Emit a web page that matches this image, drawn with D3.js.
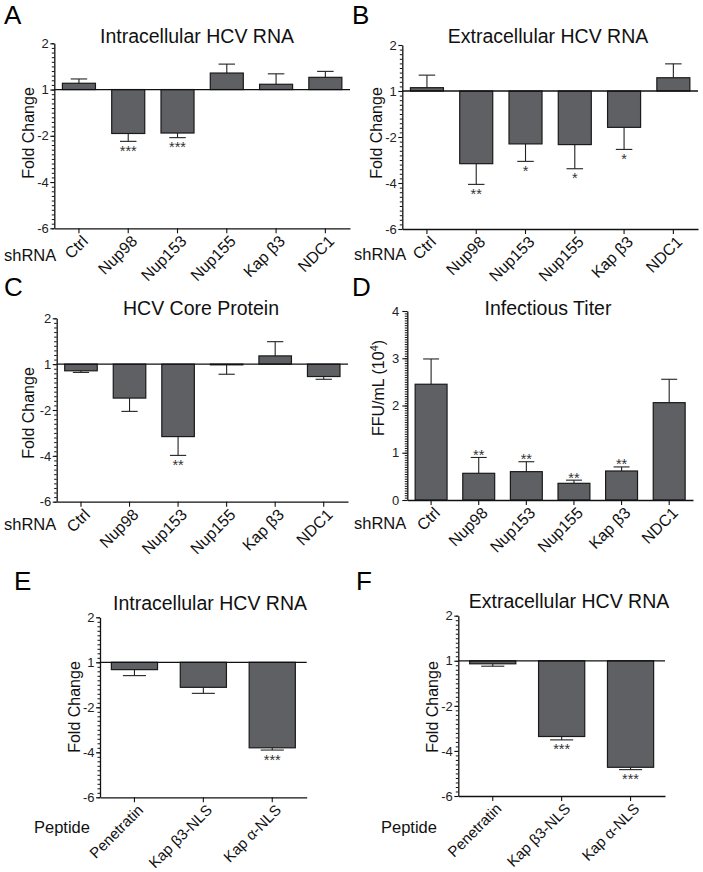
<!DOCTYPE html>
<html><head><meta charset="utf-8">
<script src="https://cdn.jsdelivr.net/npm/d3@7"></script>
<style>
html,body{margin:0;padding:0;background:#fff;}
svg{display:block;font-family:Arial,"Liberation Sans",Helvetica,sans-serif;}
</style></head>
<body>
<svg id="fig" width="703" height="872"></svg>
<script>
// ---------- DATA ----------
const shRNA = ["Ctrl", "Nup98", "Nup153", "Nup155", "Kap β3", "NDC1"];
const peptides = ["Penetratin", "Kap β3-NLS", "Kap α-NLS"];

// Fold-change axis: labelled ticks are equally spaced; values below are in axis steps
// (0 = fold change 1, 1 = "2", -1 = "-2", -2 = "-4", -3 = "-6")
const foldTickValues = [1, 0, -1, -2, -3];
const foldTickLabels = ["2", "1", "-2", "-4", "-6"];
const titerTickValues = [0, 1, 2, 3, 4];
const titerTickLabels = ["0", "1", "2", "3", "4"];

// A: Intracellular HCV RNA (shRNA)
const aMean = [0.136, -0.95, -0.94, 0.357, 0.114, 0.264];
const aErr  = [0.229, -1.12, -1.04, 0.55, 0.34, 0.393];
const aSig  = ["", "***", "***", "", "", ""];
// B: Extracellular HCV RNA (shRNA)
const bMean = [0.072, -1.58, -1.15, -1.165, -0.79, 0.288];
const bErr  = [0.345, -2.03, -1.53, -1.69, -1.27, 0.59];
const bSig  = ["", "**", "*", "*", "*", ""];
// C: HCV Core Protein (shRNA)
const cMean = [-0.145, -0.74, -1.58, -0.015, 0.18, -0.27];
const cErr  = [-0.18, -1.03, -1.99, -0.22, 0.49, -0.33];
const cSig  = ["", "", "**", "", "", ""];
// D: Infectious Titer, FFU/mL (10^4)
const dMean = [2.45, 0.565, 0.60, 0.353, 0.614, 2.06];
const dErr  = [2.985, 0.90, 0.81, 0.42, 0.70, 2.555];
const dSig  = ["", "**", "**", "**", "**", ""];
// E: Intracellular HCV RNA (peptide)
const eMean = [-0.163, -0.556, -1.90];
const eErr  = [-0.296, -0.69, -1.95];
const eSig  = ["", "", "***"];
// F: Extracellular HCV RNA (peptide)
const fMean = [-0.067, -1.68, -2.363];
const fErr  = [-0.12, -1.755, -2.415];
const fSig  = ["", "***", "***"];

// ---------- DRAW ----------
const svg = d3.select("#fig");
const BAR = "#5f6064";

function panel(cfg) {
  const g = svg.append("g");
  const x = d3.scaleBand().domain(cfg.cats).range([cfg.x0, cfg.x1])
    .paddingInner(0.33).paddingOuter(0.165);
  const y = d3.scaleLinear().domain(cfg.domain).range([cfg.yb, cfg.yt]);
  const rows = cfg.cats.map((c, i) => ({c, m: cfg.mean[i], e: cfg.err[i], s: cfg.sig[i]}));
  const bw = x.bandwidth();

  // error bars
  const eb = g.append("g").attr("stroke", "#222").attr("stroke-width", 1.1);
  rows.forEach(r => {
    const cx = x(r.c) + bw / 2;
    eb.append("line").attr("x1", cx).attr("x2", cx).attr("y1", y(r.m)).attr("y2", y(r.e));
    eb.append("line").attr("x1", cx - bw / 4).attr("x2", cx + bw / 4).attr("y1", y(r.e)).attr("y2", y(r.e));
  });
  // bars
  g.append("g").selectAll("rect").data(rows).join("rect")
    .attr("x", d => x(d.c)).attr("width", bw)
    .attr("y", d => Math.min(y(0), y(d.m)))
    .attr("height", d => Math.abs(y(d.m) - y(0)))
    .attr("fill", BAR).attr("stroke", "#1a1a1a").attr("stroke-width", 1.2);
  // significance
  g.append("g").selectAll("text").data(rows.filter(r => r.s)).join("text")
    .attr("x", d => x(d.c) + bw / 2)
    .attr("y", d => d.e < 0 ? y(d.e) + 14.5 : y(d.e) + 2.5)
    .attr("text-anchor", "middle").attr("font-size", 14.5).attr("fill", "#333")
    .text(d => d.s);

  // baseline (fold change = 1)
  if (cfg.baseline) {
    g.append("line").attr("x1", cfg.x0).attr("x2", cfg.x1).attr("y1", y(0)).attr("y2", y(0))
      .attr("stroke", "#111").attr("stroke-width", 1.3);
  }
  // minor ticks
  const minor = d3.range(cfg.domain[0], cfg.domain[1] + 1e-9, cfg.minorStep);
  g.append("g").attr("transform", `translate(${cfg.x0},0)`)
    .call(d3.axisLeft(y).tickValues(minor).tickSize(2.5).tickFormat(""))
    .call(s => s.select(".domain").remove())
    .call(s => s.selectAll("line").attr("stroke", "#111"));
  // y axis
  g.append("g").attr("transform", `translate(${cfg.x0},0)`)
    .call(d3.axisLeft(y).tickValues(cfg.ticks).tickFormat((d, i) => cfg.tickLabels[i])
      .tickSize(cfg.tickSize).tickSizeOuter(0).tickPadding(cfg.tickPad))
    .call(s => s.select(".domain").attr("stroke", "#111").attr("stroke-width", 1.3))
    .call(s => s.selectAll("line").attr("stroke", "#111").attr("stroke-width", 1.1))
    .call(s => s.selectAll("text").attr("font-size", 13).attr("fill", "#222")
      .attr("font-family", "Arial, 'Liberation Sans', sans-serif"));
  // x axis
  const xa = g.append("g").attr("transform", `translate(0,${cfg.yb})`)
    .call(d3.axisBottom(x).tickSize(5).tickSizeOuter(0).tickFormat(""));
  xa.select(".domain").attr("stroke", "#111").attr("stroke-width", 1.3);
  xa.selectAll("line").attr("stroke", "#111").attr("stroke-width", 1.1);
  g.append("g").selectAll("text").data(cfg.cats).join("text")
    .attr("transform", d => `translate(${x(d) + bw / 2 + 6},${cfg.yb + 10}) rotate(-45)`)
    .attr("text-anchor", "end").attr("dy", "0.35em").attr("font-size", cfg.catSize).attr("fill", "#111")
    .text(d => d);

  // title, labels
  g.append("text").attr("x", cfg.titleX).attr("y", cfg.titleY).attr("text-anchor", "middle")
    .attr("font-size", 19.5).attr("fill", "#111").text(cfg.title);
  g.append("text").attr("transform", `translate(${cfg.ylabX},${cfg.ylabY}) rotate(-90)`)
    .attr("text-anchor", "middle").attr("font-size", 16).attr("fill", "#111")
    .html(cfg.ylab);
  g.append("text").attr("x", cfg.groupX).attr("y", cfg.groupY).attr("font-size", 16.5)
    .attr("fill", "#111").text(cfg.group);
  g.append("text").attr("x", cfg.letterX).attr("y", cfg.letterY).attr("font-size", 26)
    .attr("fill", "#000").text(cfg.letter);
}

const fold = {domain: [-3, 1], ticks: foldTickValues, tickLabels: foldTickLabels, minorStep: 0.1,
  baseline: true, tickSize: 4, tickPad: 1.5, ylab: "Fold Change", catSize: 16};

panel({...fold, letter: "A", letterX: 4, letterY: 24, title: "Intracellular HCV RNA", titleX: 197, titleY: 43,
  cats: shRNA, mean: aMean, err: aErr, sig: aSig, x0: 54.3, x1: 350, yt: 43.3, yb: 228.3,
  ylabX: 34, ylabY: 133, group: "shRNA", groupX: 4, groupY: 261});
panel({...fold, letter: "B", letterX: 352, letterY: 24, title: "Extracellular HCV RNA", titleX: 548, titleY: 43,
  cats: shRNA, mean: bMean, err: bErr, sig: bSig, x0: 402.3, x1: 698, yt: 45, yb: 229,
  ylabX: 382, ylabY: 133, group: "shRNA", groupX: 354, groupY: 260});
panel({...fold, letter: "C", letterX: 4, letterY: 296, title: "HCV Core Protein", titleX: 201, titleY: 315,
  cats: shRNA, mean: cMean, err: cErr, sig: cSig, x0: 56.7, x1: 348, yt: 318.3, yb: 501.7,
  ylabX: 34, ylabY: 413, group: "shRNA", groupX: 4, groupY: 530});
panel({domain: [0, 4], ticks: titerTickValues, tickLabels: titerTickLabels, minorStep: 0.05,
  baseline: false, tickSize: 5, tickPad: 3, catSize: 16,
  ylab: 'FFU/mL (10<tspan dy="-6" font-size="11">4</tspan><tspan dy="6">)</tspan>',
  letter: "D", letterX: 352, letterY: 296, title: "Infectious Titer", titleX: 548, titleY: 315,
  cats: shRNA, mean: dMean, err: dErr, sig: dSig, x0: 407.3, x1: 693, yt: 311, yb: 500,
  ylabX: 384, ylabY: 388, group: "shRNA", groupX: 354, groupY: 529});
panel({...fold, letter: "E", letterX: 14, letterY: 590, title: "Intracellular HCV RNA", titleX: 210, titleY: 610,
  cats: peptides, mean: eMean, err: eErr, sig: eSig, x0: 100, x1: 306.7, yt: 617.3, yb: 797.3,
  ylabX: 80, ylabY: 707, group: "Peptide", groupX: 34, groupY: 833, catSize: 15});
panel({...fold, letter: "F", letterX: 356, letterY: 590, title: "Extracellular HCV RNA", titleX: 569, titleY: 608,
  cats: peptides, mean: fMean, err: fErr, sig: fSig, x0: 458.3, x1: 665, yt: 615.7, yb: 796,
  ylabX: 438, ylabY: 707, group: "Peptide", groupX: 381, groupY: 833, catSize: 15});
</script>
</body></html>
